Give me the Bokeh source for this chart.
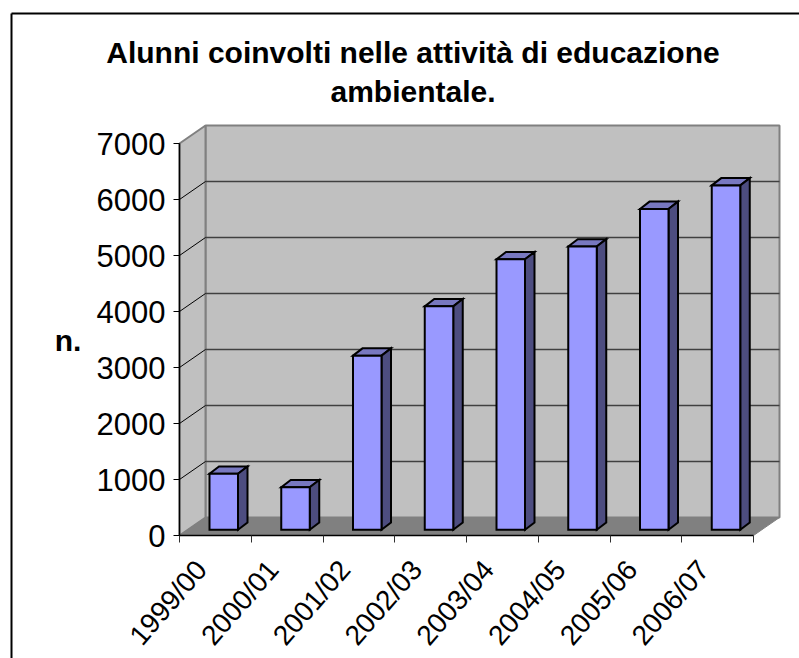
from math import pi, radians
from bokeh.embed import file_html
from bokeh.resources import INLINE
from bokeh.plotting import figure
from bokeh.models import LinearAxis, FixedTicker, ColumnDataSource
from bokeh.core.properties import value

title_lines = ["Alunni coinvolti nelle attività di educazione", "ambientale."]
y_axis_title = "n."
categories = ["1999/00", "2000/01", "2001/02", "2002/03", "2003/04", "2004/05", "2005/06", "2006/07"]
alunni = [1000, 760, 3110, 3990, 4830, 5060, 5730, 6150]
y_ticks = [0, 1000, 2000, 3000, 4000, 5000, 6000, 7000]

FONT = "Liberation Sans"
W, H = 799, 658
PAGE = 0
X0_PX, Y0_PX = 179.0, 535.0
PX_PER_CAT = 71.75
PX_PER_UNIT = 0.056

def dx(px):
    return px / PX_PER_CAT
def dy(px):
    return px / PX_PER_UNIT
def xd(px):
    return (px - X0_PX) / PX_PER_CAT
def yd(px):
    return (Y0_PX - px) / PX_PER_UNIT

p = figure(width=W, height=H, output_backend="svg", toolbar_location=None,
           x_range=(xd(PAGE), xd(PAGE + W)), y_range=(yd(PAGE + H), yd(PAGE)),
           x_axis_type=None, y_axis_type=None, min_border=0)
p.grid.visible = False
p.outline_line_color = None
p.background_fill_color = "white"
p.border_fill_color = "white"

n = len(categories)
ymax = y_ticks[-1]
back_x, back_y = dx(26), dy(18)
WALL = "#C0C0C0"
EDGE = "#808080"

# chart frame
p.line([xd(11), xd(11)], [yd(PAGE + H), yd(13)], line_color="black", line_width=2)
p.line([xd(11), xd(PAGE + W)], [yd(13), yd(13)], line_color="black", line_width=2)

# walls and floor
p.patch([back_x, n + back_x, n + back_x, back_x], [back_y, back_y, ymax + back_y, ymax + back_y],
        fill_color=WALL, line_color=EDGE, line_width=2)
p.patch([0, back_x, back_x, 0], [0, back_y, ymax + back_y, ymax],
        fill_color=WALL, line_color=EDGE, line_width=2)
p.patch([0, back_x, n + back_x, n], [0, back_y, back_y, 0],
        fill_color=EDGE, line_color=EDGE, line_width=1)

# gridlines
for t in y_ticks[1:-1]:
    p.line([back_x, n + back_x], [t + back_y, t + back_y], line_color="#404040", line_width=1.5)
    p.line([0, back_x], [t, t + back_y], line_color="black", line_width=1)

# bars
base = dy(5.7)
bw = dx(28.5)
off = dx(30)
bx, by = dx(9.5), dy(7.3)
x0 = [i + off for i in range(n)]
x1 = [x + bw for x in x0]
tops = [base + v for v in alunni]
src = ColumnDataSource(dict(left=x0, right=x1, top=tops, bottom=[base] * n))

OUT = dict(line_color="black", line_width=2, line_join="miter")
p.patches([[a, a + bx, b + bx, b] for a, b in zip(x0, x1)],
          [[t, t + by, t + by, t] for t in tops], fill_color="#7878C0", **OUT)
p.patches([[b, b + bx, b + bx, b] for b in x1],
          [[base, base + by, t + by, t] for t in tops], fill_color="#4D4D80", **OUT)
p.quad(left="left", right="right", top="top", bottom="bottom", source=src,
       fill_color="#9999FF", **OUT)

# axes
yaxis = LinearAxis(fixed_location=0, ticker=FixedTicker(ticks=y_ticks), bounds=(0, ymax))
yaxis.axis_line_color = "black"
yaxis.axis_line_width = 1.5
yaxis.major_tick_in = 0
yaxis.major_tick_out = 6
yaxis.minor_tick_line_color = None
yaxis.major_label_standoff = 8
yaxis.major_label_text_font = FONT
yaxis.major_label_text_font_size = "31px"
yaxis.major_label_text_color = "black"
p.add_layout(yaxis, "left")

centers = [i + 0.5 - dx(14) for i in range(n)]
xaxis = LinearAxis(fixed_location=0, ticker=FixedTicker(ticks=centers, minor_ticks=list(range(n + 1))),
                   bounds=(0, n))
xaxis.major_label_overrides = {c: s for c, s in zip(centers, categories)}
xaxis.axis_line_color = "black"
xaxis.axis_line_width = 1.5
xaxis.major_tick_line_color = None
xaxis.major_tick_in = 0
xaxis.major_tick_out = 0
xaxis.minor_tick_in = 0
xaxis.minor_tick_out = 7
xaxis.minor_tick_line_color = "#303030"
xaxis.major_label_orientation = radians(49)
xaxis.major_label_standoff = 22
xaxis.major_label_text_font = FONT
xaxis.major_label_text_font_size = "28px"
xaxis.major_label_text_color = "black"
p.add_layout(xaxis, "below")

# titles
for line, py in zip(title_lines, (52, 91)):
    p.text([xd(412.5)], [yd(py)], text=[line], text_font=value(FONT), text_font_size=value("30px"),
           text_font_style="bold", text_align="center", text_baseline="middle", text_color="black")
p.text([xd(67.5)], [yd(340)], text=[y_axis_title], text_font=value(FONT), text_font_size=value("30px"),
       text_font_style="bold", text_align="center", text_baseline="middle", text_color="black")

open("out.html", "w").write(file_html(p, INLINE))
